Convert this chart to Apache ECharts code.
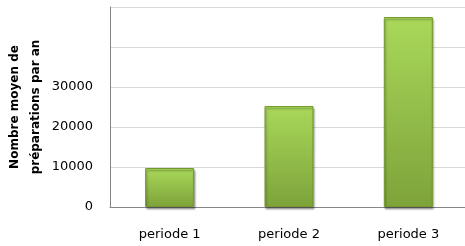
<!DOCTYPE html>
<html>
<head>
<meta charset="utf-8">
<script src="https://cdn.jsdelivr.net/npm/echarts@6/dist/echarts.min.js"></script>
<style>
  html, body { margin: 0; padding: 0; background: #fff; }
  #main { width: 465px; height: 246px; }
</style>
</head>
<body>
<div id="main"></div>
<script>
// data
var periods = ["periode 1", "periode 2", "periode 3"];
var preparations = [9750, 25250, 47500];
var shownTicks = [0, 10000, 20000, 30000]; // the original only labels up to 30000

var chartDom = document.getElementById("main");
var myChart = echarts.init(chartDom);

var font = "DejaVu Sans";

var option = {
  animation: false,
  grid: {
    left: 110,
    right: -3,
    top: 7,
    bottom: 39,
    containLabel: false,
    outerBoundsMode: "none",
  },
  xAxis: {
    type: "category",
    data: periods,
    axisLine: { lineStyle: { color: "#868686" } },
    axisTick: { show: false },
    axisLabel: { color: "#000", fontFamily: font, fontSize: 13, margin: 21 },
  },
  yAxis: {
    type: "value",
    min: 0,
    max: 50000,
    interval: 10000,
    name: "Nombre moyen de\npréparations par an",
    nameLocation: "middle",
    nameRotate: 90,
    nameGap: 64,
    nameMoveOverlap: false,
    nameTextStyle: {
      color: "#000",
      fontFamily: font,
      fontWeight: "bold",
      fontSize: 12,
      lineHeight: 21,
    },
    axisLine: { show: true, lineStyle: { color: "#868686" } },
    axisTick: { show: false },
    splitLine: { lineStyle: { color: "#d9d9d9" } },
    axisLabel: {
      color: "#000",
      fontFamily: font,
      fontSize: 13,
      margin: 17,
      formatter: function (v) {
        return shownTicks.indexOf(v) >= 0 ? String(v) : "";
      },
    },
  },
  series: [
    {
      type: "bar",
      data: preparations,
      barWidth: 49,
      itemStyle: {
        color: new echarts.graphic.LinearGradient(0, 0, 0, 1, [
          { offset: 0, color: "#a9d85a" },
          { offset: 1, color: "#7da33a" },
        ]),
        borderColor: "#74992f",
        borderWidth: 1,
        shadowColor: "rgba(0,0,0,0.35)",
        shadowBlur: 2,
        shadowOffsetX: 1,
        shadowOffsetY: 2,
      },
    },
  ],
};

option && myChart.setOption(option);
</script>
</body>
</html>
